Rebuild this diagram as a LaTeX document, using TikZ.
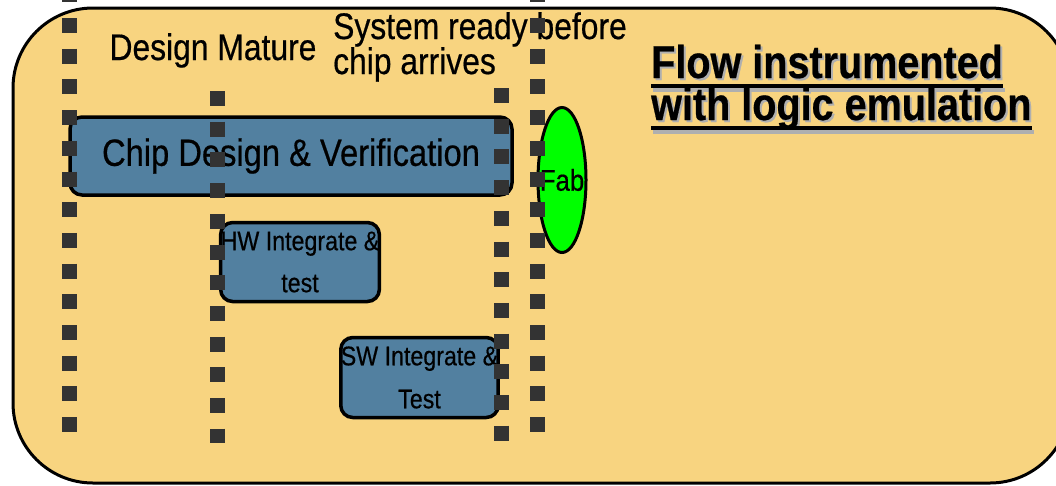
\documentclass[tikz,border=0pt]{standalone}
\usepackage{fontspec}
\setmainfont{Liberation Sans}[FakeStretch=0.86, FakeBold=0.5]
\usetikzlibrary{shapes.geometric, positioning}
\definecolor{panelbg}{RGB}{248, 212, 128}
\definecolor{boxblue}{RGB}{82, 128, 160}
\definecolor{fabgreen}{RGB}{0, 255, 0}
\definecolor{dotgray}{RGB}{51, 51, 51}
\definecolor{shadowgray}{RGB}{175, 175, 175}

\begin{document}
\begin{tikzpicture}[
    x=1pt, y=-1pt,
    task/.style={rectangle, rounded corners=12pt, draw=black, line width=3.5pt, fill=boxblue, align=center, inner sep=0pt},
    milestone/.style={dotgray, line width=15pt, dash pattern=on 15pt off 15.7pt},
    note/.style={inner sep=0pt, align=left, font=\fontsize{37}{35}\selectfont},
    title/.style={inner sep=0pt, font=\fontsize{46}{50}\selectfont\bfseries},
    uline/.style={line width=3.5pt}
]
    \useasboundingbox (0,0) rectangle (1056,485);

    % Panel
    \draw[fill=panelbg, line width=3pt, rounded corners=80pt] (13,8) rectangle (1070,483);

    % Milestone labels
    \node[note, anchor=base] (mature) at (213,60) {Design Mature};
    \node[note, anchor=north west] (ready) at (333,12) {System ready before\\chip arrives};

    % Title with shadow
    \node[title, shadowgray, anchor=base west] (title1s) at (653,80) {Flow instrumented};
    \node[title, shadowgray, anchor=base west] (title2s) at (653,122) {with logic emulation};
    \draw[uline, shadowgray] ([yshift=-10pt]title1s.base west) -- ([yshift=-10pt]title1s.base east);
    \draw[uline, shadowgray] ([yshift=-10pt]title2s.base west) -- ([yshift=-10pt]title2s.base east);
    \node[title, anchor=base west] (title1) at (651,78) {Flow instrumented};
    \node[title, anchor=base west] (title2) at (651,120) {with logic emulation};
    \draw[uline] ([yshift=-8pt]title1.base west) -- ([yshift=-8pt]title1.base east);
    \draw[uline] ([yshift=-8pt]title2.base west) -- ([yshift=-8pt]title2.base east);

    % Tasks
    \node[task, minimum width=442pt, minimum height=78pt, font=\fontsize{38}{40}\selectfont] (chip) at (291,156) {Chip Design \& Verification};
    \node[task, minimum width=157pt, minimum height=79pt, font=\fontsize{27}{42}\selectfont] (hw) at (300,262) {HW Integrate \&\\test};
    \node[task, minimum width=156pt, minimum height=80pt, font=\fontsize{27}{43}\selectfont] (sw) at (419.5,377.5) {SW Integrate \&\\Test};
    \node[ellipse, draw=black, line width=3pt, fill=fabgreen, inner sep=0pt, minimum width=48pt, minimum height=145pt, font=\fontsize{30}{30}\selectfont] (fab) at (562,180) {\makebox[0pt]{Fab}};

    % Milestone lines
    \draw[milestone] (69.5,-12.7) -- (69.5,433);
    \draw[milestone] (217,91) -- (217,443);
    \draw[milestone] (501.5,88) -- (501.5,441);
    \draw[milestone] (537.5,-12.7) -- (537.5,433);

\end{tikzpicture}
\end{document}
